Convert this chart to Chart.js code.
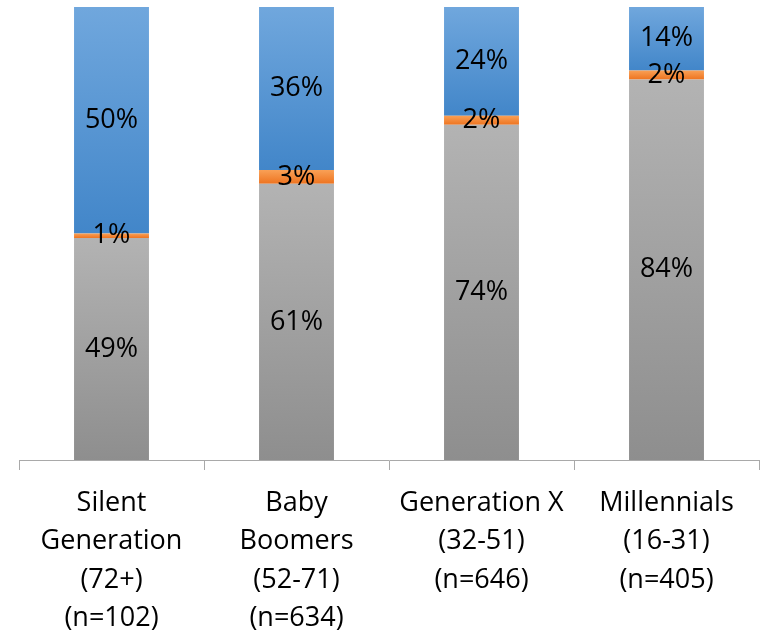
<!DOCTYPE html>
<html>
<head>
<meta charset="utf-8">
<script src="https://cdn.jsdelivr.net/npm/chart.js@4/dist/chart.umd.min.js"></script>
<style>
  html, body { margin: 0; padding: 0; background: #ffffff; }
  canvas { display: block; }
</style>
</head>
<body>
<canvas id="chart" width="763" height="633"></canvas>
<script>
// Generations and their sample sizes
const categories = [
  ["Silent", "Generation", "(72+)", "(n=102)"],
  ["Baby", "Boomers", "(52-71)", "(n=634)"],
  ["Generation X", "(32-51)", "(n=646)"],
  ["Millennials", "(16-31)", "(n=405)"]
];

// Shares (%) stacked bottom to top
const greyValues   = [49, 61, 74, 84];
const orangeValues = [1, 3, 2, 2];
const blueValues   = [50, 36, 24, 14];

const FONT_FAMILY = "'Open Sans', 'Liberation Sans', sans-serif";
const FONT_SIZE = 27;

// Vertical gradient spanning a single stacked segment
function segmentGradient(topColor, bottomColor) {
  return function (ctx) {
    const chart = ctx.chart;
    if (ctx.type !== 'data' || !chart.chartArea || !chart.scales.y) return bottomColor;
    const ds = chart.data.datasets;
    let base = 0;
    for (let i = 0; i < ctx.datasetIndex; i++) base += ds[i].data[ctx.dataIndex];
    const value = ds[ctx.datasetIndex].data[ctx.dataIndex];
    const yScale = chart.scales.y;
    const top = yScale.getPixelForValue(base + value);
    const bottom = yScale.getPixelForValue(base);
    if (!isFinite(top) || !isFinite(bottom) || top === bottom) return bottomColor;
    const g = chart.ctx.createLinearGradient(0, top, 0, bottom);
    g.addColorStop(0, topColor);
    g.addColorStop(1, bottomColor);
    return g;
  };
}

// Percentage labels centred in every segment
const segmentLabels = {
  id: 'segmentLabels',
  afterDatasetsDraw(chart) {
    const c = chart.ctx;
    c.save();
    c.font = FONT_SIZE + 'px ' + FONT_FAMILY;
    c.fillStyle = '#000000';
    c.textAlign = 'center';
    c.textBaseline = 'middle';
    chart.data.datasets.forEach((ds, di) => {
      const meta = chart.getDatasetMeta(di);
      meta.data.forEach((el, i) => {
        const p = el.getProps(['x', 'y', 'base'], true);
        c.fillText(ds.data[i] + '%', p.x, (p.y + p.base) / 2);
      });
    });
    c.restore();
  }
};

new Chart(document.getElementById('chart'), {
  type: 'bar',
  data: {
    labels: categories,
    datasets: [
      { data: greyValues,   backgroundColor: segmentGradient('#b3b3b3', '#8e8e8e') },
      { data: orangeValues, backgroundColor: segmentGradient('#f9a056', '#ee7420') },
      { data: blueValues,   backgroundColor: segmentGradient('#70a7dd', '#4286c9') }
    ]
  },
  options: {
    responsive: false,
    animation: false,
    barPercentage: 0.405,
    categoryPercentage: 1,
    layout: { padding: { top: 7, left: 19, right: 4, bottom: -19 } },
    plugins: {
      legend: { display: false },
      tooltip: { enabled: false }
    },
    scales: {
      x: {
        stacked: true,
        offset: true,
        border: { display: true, color: '#a9a9a9', width: 1 },
        grid: {
          display: true,
          offset: true,
          drawOnChartArea: false,
          drawTicks: true,
          tickLength: 10,
          color: '#a9a9a9'
        },
        ticks: {
          color: '#000000',
          padding: 14,
          maxRotation: 0,
          autoSkip: false,
          font: { family: FONT_FAMILY, size: FONT_SIZE, lineHeight: 38.5 / FONT_SIZE }
        }
      },
      y: {
        stacked: true,
        display: false,
        min: 0,
        max: 100
      }
    }
  },
  plugins: [segmentLabels]
});
</script>
</body>
</html>
